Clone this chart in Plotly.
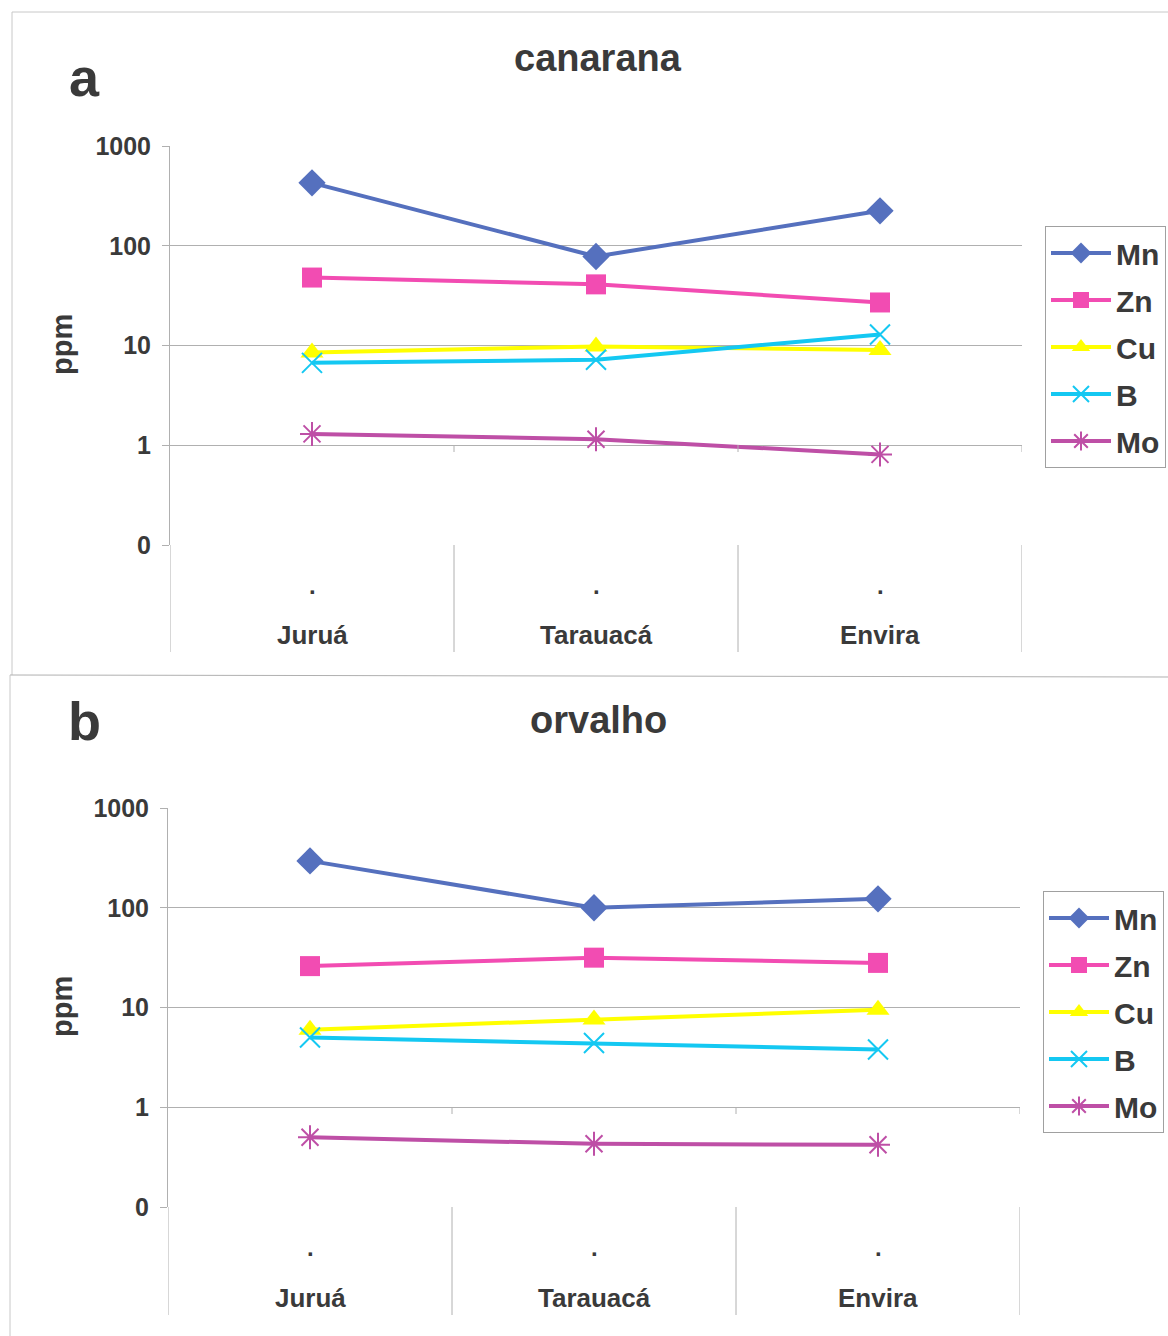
import plotly.graph_objects as go

W, H = 1168, 1336

categories = ["Juruá", "Tarauacá", "Envira"]
series_names = ["Mn", "Zn", "Cu", "B", "Mo"]

canarana_Mn = [427, 78, 224]
canarana_Zn = [48, 41, 27]
canarana_Cu = [8.5, 9.8, 9.0]
canarana_B = [6.7, 7.2, 12.9]
canarana_Mo = [1.3, 1.15, 0.81]

orvalho_Mn = [295, 100, 123]
orvalho_Zn = [26, 31.6, 28]
orvalho_Cu = [6.0, 7.6, 9.5]
orvalho_B = [5.0, 4.4, 3.8]
orvalho_Mo = [0.50, 0.43, 0.42]

tick_vals = [0.1, 1, 10, 100, 1000]
tick_text = ["0", "1", "10", "100", "1000"]

colors = {"Mn": "#5570BE", "Zn": "#F24CB2", "Cu": "#FFFF00", "B": "#14C8F2", "Mo": "#BE4FA6"}
symbols = {"Mn": "diamond", "Zn": "square", "Cu": "triangle-up", "B": "x-thin-open", "Mo": "asterisk-open"}
msizes = {"Mn": 21, "Zn": 20, "Cu": 20, "B": 20, "Mo": 20}

FONT = "Liberation Sans, Arial, sans-serif"
TXT = "#3a3a3a"
GRID = "#b0b0b0"


def px(x):
    return x / W


def py(y):
    return 1 - y / H


fig = go.Figure()

panels = [
    dict(name="canarana", letter="a", data=[canarana_Mn, canarana_Zn, canarana_Cu, canarana_B, canarana_Mo],
         xa="x", ya="y", legend="legend", x0=170, x1=1022, ytop=146, ybot=545, ycat=652,
         title_y=58, letter_y=77, dot_y=585, cat_y=635, leg_y=226, ppm_y=345, leg_x=1045),
    dict(name="orvalho", letter="b", data=[orvalho_Mn, orvalho_Zn, orvalho_Cu, orvalho_B, orvalho_Mo],
         xa="x2", ya="y2", legend="legend2", x0=168, x1=1020, ytop=808, ybot=1207, ycat=1315,
         title_y=720, letter_y=721, dot_y=1247, cat_y=1298, leg_y=891, ppm_y=1007, leg_x=1043),
]

shapes = []
annotations = []

for p in panels:
    for name, vals in zip(series_names, p["data"]):
        marker = dict(symbol=symbols[name], size=msizes[name], color=colors[name])
        if name in ("B", "Mo"):
            marker["line"] = dict(color=colors[name], width=2)
        fig.add_trace(go.Scatter(
            x=categories, y=vals, name=name, mode="lines+markers",
            line=dict(color=colors[name], width=4), marker=marker,
            xaxis=p["xa"], yaxis=p["ya"], legend=p["legend"], legendgroup=p["letter"] + name,
        ))

    xref = p["xa"]
    for xb in [-0.5, 0.5, 1.5, 2.5]:
        shapes.append(dict(type="line", xref=xref, yref="paper", x0=xb, x1=xb,
                           y0=py(p["ybot"]), y1=py(p["ycat"]), line=dict(color=GRID, width=1)))
    y1px = p["ybot"] - 100
    for xb in [0.5, 1.5, 2.5]:
        shapes.append(dict(type="line", xref=xref, yref="paper", x0=xb, x1=xb,
                           y0=py(y1px), y1=py(y1px + 7), line=dict(color=GRID, width=1)))
    for c in categories:
        annotations.append(dict(x=c, y=py(p["dot_y"]), xref=xref, yref="paper", text=".",
                                xanchor="center", yanchor="middle", showarrow=False,
                                font=dict(family=FONT, size=24, color=TXT, weight="bold")))
        annotations.append(dict(x=c, y=py(p["cat_y"]), xref=xref, yref="paper", text=c,
                                xanchor="center", yanchor="middle", showarrow=False,
                                font=dict(family=FONT, size=26, color=TXT, weight="bold")))
    annotations.append(dict(x=px(598), y=py(p["title_y"]), xref="paper", yref="paper",
                            text=p["name"], xanchor="center", yanchor="middle", showarrow=False,
                            font=dict(family=FONT, size=38, color=TXT, weight="bold")))
    annotations.append(dict(x=px(84), y=py(p["letter_y"]), xref="paper", yref="paper",
                            text=p["letter"], xanchor="center", yanchor="middle", showarrow=False,
                            font=dict(family=FONT, size=54, color=TXT, weight="bold")))
    annotations.append(dict(x=px(62), y=py(p["ppm_y"]), xref="paper", yref="paper",
                            text="ppm", textangle=-90, xanchor="center", yanchor="middle", showarrow=False,
                            font=dict(family=FONT, size=29, color=TXT, weight="bold")))

# panel borders
shapes.append(dict(type="line", xref="paper", yref="paper", x0=px(12), x1=1, y0=py(12), y1=py(12),
                   line=dict(color="#c8c8c8", width=1)))
shapes.append(dict(type="line", xref="paper", yref="paper", x0=px(12), x1=px(12), y0=py(12), y1=py(675),
                   line=dict(color="#c8c8c8", width=1)))
shapes.append(dict(type="line", xref="paper", yref="paper", x0=px(10), x1=1, y0=py(675), y1=py(677),
                   line=dict(color="#b0b0b0", width=1)))
shapes.append(dict(type="line", xref="paper", yref="paper", x0=px(10), x1=px(10), y0=py(675), y1=0,
                   line=dict(color="#c8c8c8", width=1)))

axis_common = dict(type="log", range=[-1, 3], tickvals=tick_vals, ticktext=tick_text,
                   showgrid=True, gridcolor=GRID, gridwidth=1, showline=True, linecolor=GRID,
                   ticks="outside", ticklen=7, tickcolor=GRID, zeroline=False, ticklabelstandoff=6,
                   automargin=False,
                   tickfont=dict(family=FONT, size=25, color=TXT, weight="bold"))
xaxis_common = dict(type="category", range=[-0.5, 2.5], showticklabels=False, showgrid=False,
                    zeroline=False, showline=False, ticks="", automargin=False)

leg_common = dict(xanchor="left", yanchor="top", bgcolor="white", bordercolor="#a0a0a0", borderwidth=1,
                  font=dict(family=FONT, size=30, color=TXT, weight="bold"), tracegroupgap=5,
                  traceorder="grouped", itemwidth=60)

p1, p2 = panels
fig.update_layout(
    width=W, height=H, margin=dict(l=0, r=0, t=0, b=0, autoexpand=False),
    paper_bgcolor="white", plot_bgcolor="white", showlegend=True,
    xaxis=dict(domain=[px(p1["x0"]), px(p1["x1"])], anchor="y", **xaxis_common),
    yaxis=dict(domain=[py(p1["ybot"]), py(p1["ytop"])], anchor="x", **axis_common),
    xaxis2=dict(domain=[px(p2["x0"]), px(p2["x1"])], anchor="y2", **xaxis_common),
    yaxis2=dict(domain=[py(p2["ybot"]), py(p2["ytop"])], anchor="x2", **axis_common),
    legend=dict(x=px(p1["leg_x"]), y=py(p1["leg_y"]), **leg_common),
    legend2=dict(x=px(p2["leg_x"]), y=py(p2["leg_y"]), **leg_common),
    shapes=shapes, annotations=annotations,
)

post = ("document.documentElement.style.margin='0';document.body.style.margin='0';"
        "document.documentElement.style.overflow='hidden';document.body.style.overflow='hidden';"
        "var g=document.getElementById('{plot_id}');g.style.position='fixed';"
        "g.style.left='0px';g.style.top='0px';")

fig.write_html("out.html", post_script=post, config={"displayModeBar": False})
